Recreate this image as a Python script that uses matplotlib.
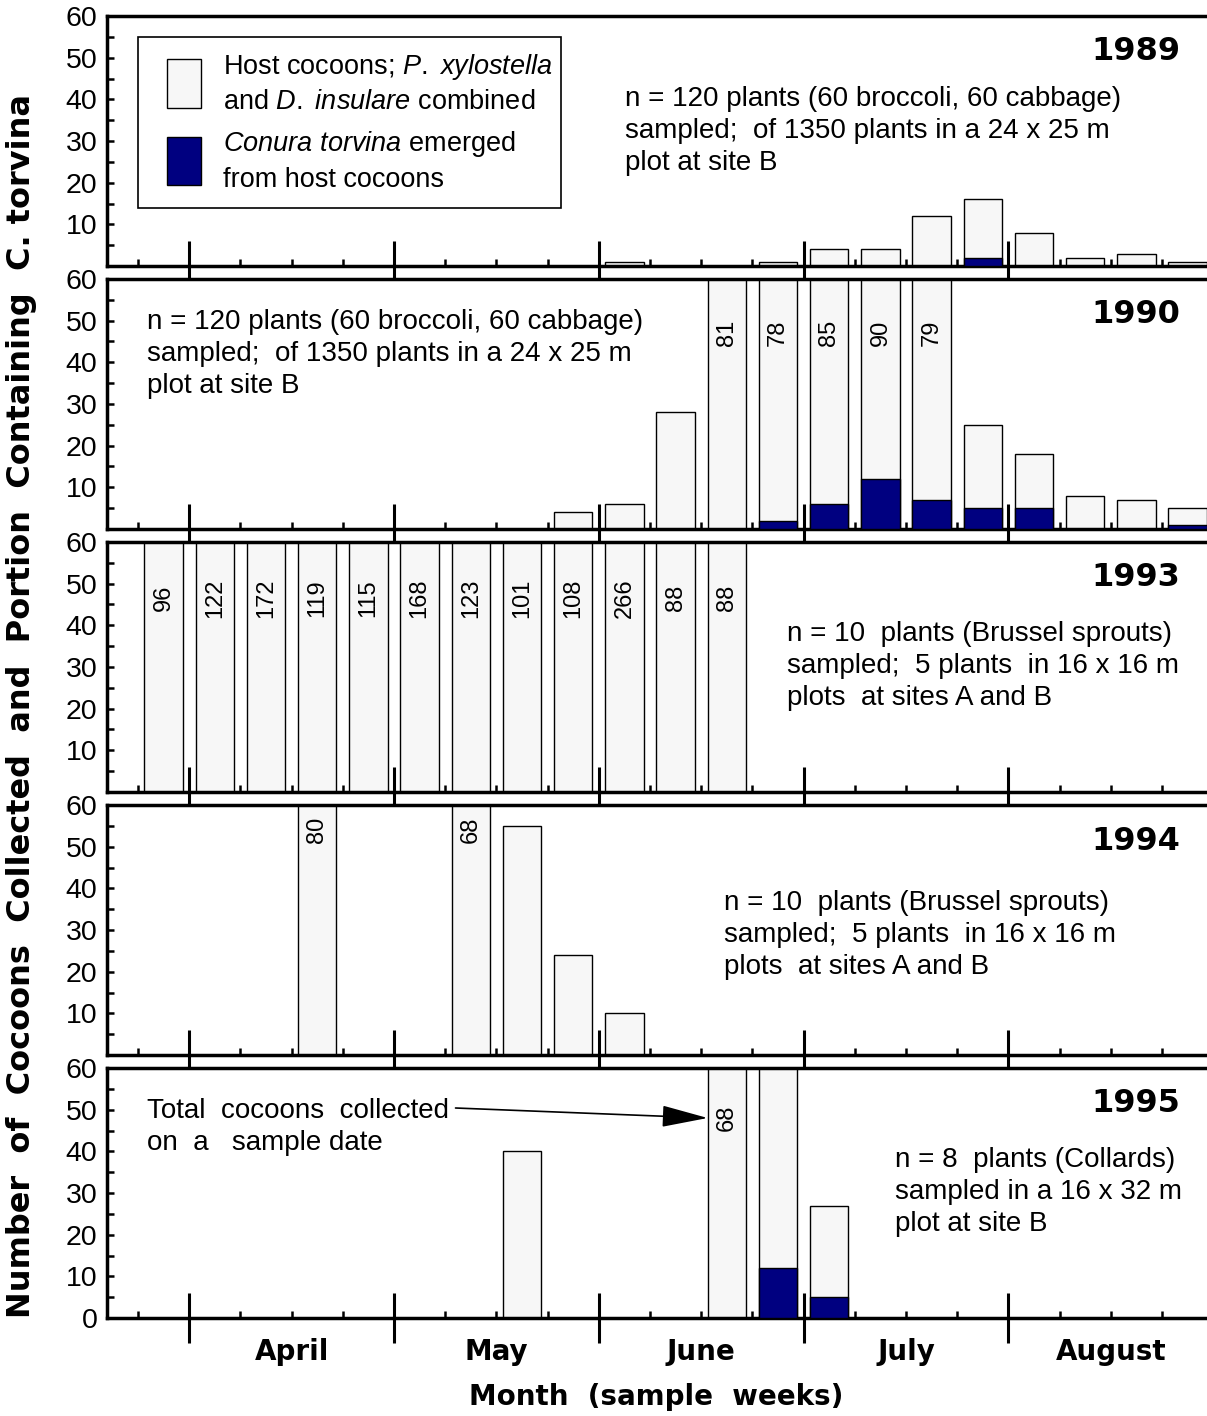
import matplotlib
matplotlib.use('Agg')
import matplotlib.pyplot as plt
from matplotlib.patches import Patch
from matplotlib.legend_handler import HandlerPatch

plt.rcParams['font.family'] = ['Liberation Sans', 'DejaVu Sans']
plt.rcParams['mathtext.fontset'] = 'custom'
plt.rcParams['mathtext.rm'] = 'Liberation Sans'
plt.rcParams['mathtext.it'] = 'Liberation Sans:italic'

# Sample weeks counted from 1 April (week 0 = first week of April)
years = ['1989', '1990', '1993', '1994', '1995']

weeks_1989 = [8, 11, 12, 13, 14, 15, 16, 17, 18, 19]
hosts_1989 = [1, 1, 4, 4, 12, 16, 8, 2, 3, 1]
torvina_1989 = [0, 0, 0, 0, 0, 2, 0, 0, 0, 0]

weeks_1990 = [7, 8, 9, 10, 11, 12, 13, 14, 15, 16, 17, 18, 19]
hosts_1990 = [4, 6, 28, 81, 78, 85, 90, 79, 25, 18, 8, 7, 5]
torvina_1990 = [0, 0, 0, 0, 2, 6, 12, 7, 5, 5, 0, 0, 1]

weeks_1993 = [-1, 0, 1, 2, 3, 4, 5, 6, 7, 8, 9, 10]
hosts_1993 = [96, 122, 172, 119, 115, 168, 123, 101, 108, 266, 88, 88]
torvina_1993 = [0, 0, 0, 0, 0, 0, 0, 0, 0, 0, 0, 0]

weeks_1994 = [2, 5, 6, 7, 8]
hosts_1994 = [80, 68, 55, 24, 10]
torvina_1994 = [0, 0, 0, 0, 0]

weeks_1995 = [6, 10, 11, 12]
hosts_1995 = [40, 68, 60, 27]
torvina_1995 = [0, 0, 12, 5]

months = ['April', 'May', 'June', 'July', 'August']
month_starts = [0, 4, 8, 12, 16]

notes = [
    ("n = 120 plants (60 broccoli, 60 cabbage)\n"
     "sampled;  of 1350 plants in a 24 x 25 m\nplot at site B", 0.471, 0.538),
    ("n = 120 plants (60 broccoli, 60 cabbage)\n"
     "sampled;  of 1350 plants in a 24 x 25 m\nplot at site B", 0.036, 0.700),
    ("n = 10  plants (Brussel sprouts)\n"
     "sampled;  5 plants  in 16 x 16 m\nplots  at sites A and B", 0.618, 0.504),
    ("n = 10  plants (Brussel sprouts)\n"
     "sampled;  5 plants  in 16 x 16 m\nplots  at sites A and B", 0.561, 0.480),
    ("n = 8  plants (Collards)\n"
     "sampled in a 16 x 32 m\nplot at site B", 0.716, 0.504),
]
value_label_y = [47, 47, 46.5, 54, 48]

panels = [
    (weeks_1989, hosts_1989, torvina_1989),
    (weeks_1990, hosts_1990, torvina_1990),
    (weeks_1993, hosts_1993, torvina_1993),
    (weeks_1994, hosts_1994, torvina_1994),
    (weeks_1995, hosts_1995, torvina_1995),
]

LIGHT = '#f7f7f7'
NAVY = '#000080'
BAR_W = 0.75
YMAX = 60

W, H = 1207, 1416
fig = plt.figure(figsize=(W / 100, H / 100), dpi=100)

axes = []
for i, (weeks, hosts, torv) in enumerate(panels):
    top = 16 + 263 * i
    ax = fig.add_axes([107 / W, 1 - (top + 250) / H, 1100 / W, 250 / H])
    axes.append(ax)
    xs = [w + 0.5 for w in weeks]
    ax.bar(xs, hosts, width=BAR_W, color=LIGHT, edgecolor='black',
           linewidth=1.0, zorder=2)
    dark = [(x, t) for x, t in zip(xs, torv) if t > 0]
    if dark:
        ax.bar([d[0] for d in dark], [d[1] for d in dark], width=BAR_W,
               color=NAVY, edgecolor='black', linewidth=1.0, zorder=3)
    for x, h in zip(xs, hosts):
        if h > YMAX:
            ax.text(x, value_label_y[i], str(h), rotation=90, ha='center',
                    va='center', fontsize=17, zorder=4)

    ax.set_xlim(-1.607, -1.607 + 1100 / 51.2)
    ax.set_ylim(0, YMAX)
    for s in ('left', 'bottom', 'top'):
        ax.spines[s].set_linewidth(2.5)
    ax.spines['right'].set_visible(False)

    ax.set_xticks(month_starts)
    ax.set_xticks([w for w in range(-1, 20) if w not in month_starts], minor=True)
    ax.tick_params(axis='x', which='major', direction='inout', length=36,
                   width=2.2, labelbottom=False)
    ax.tick_params(axis='x', which='minor', direction='in', length=5,
                   width=1.8)
    if i == len(panels) - 1:
        ax.set_yticks(range(0, 61, 10))
    else:
        ax.set_yticks(range(10, 61, 10))
    ax.set_yticks(range(5, 60, 10), minor=True)
    ax.tick_params(axis='y', which='both', direction='in', length=5,
                   width=1.8, labelsize=20.5, pad=7)

    ax.text(0.9755, 0.856, years[i], transform=ax.transAxes, ha='right',
            va='center', fontsize=23, fontweight='bold', family='DejaVu Sans')
    txt, tx, ty = notes[i]
    ax.text(tx, ty, txt, transform=ax.transAxes, ha='left', va='center',
            fontsize=20, linespacing=1.3)

# Legend in the top panel
handles = [Patch(facecolor=LIGHT, edgecolor='black', linewidth=1.0),
           Patch(facecolor=NAVY, edgecolor='black', linewidth=1.0)]
labels = [r"Host cocoons; $\mathit{P.\ xylostella}$" + "\n"
          r"and $\mathit{D.\ insulare}$ combined",
          r"$\mathit{Conura\ torvina}$ emerged" + "\nfrom host cocoons"]
leg = axes[0].legend(handles, labels, loc='upper left',
                     bbox_to_anchor=(0.0282, 0.232, 0.3845, 0.684),
                     mode='expand', borderaxespad=0, fontsize=19.5,
                     handlelength=1.77, handleheight=2.59, handletextpad=0.8,
                     borderpad=0.55, labelspacing=0.5, fancybox=False,
                     framealpha=1, edgecolor='black',
                     handler_map={Patch: HandlerPatch(xpad=0.52, ypad=0.15)})
leg.get_frame().set_linewidth(1.2)
for t in leg.get_texts():
    t.set_linespacing(1.38)

# Arrow pointing at the total on one 1995 sample date
ax5 = axes[-1]
ax5.text(0.036, 0.764, "Total  cocoons  collected\non  a   sample date",
         transform=ax5.transAxes, ha='left', va='center', fontsize=20,
         linespacing=1.3)
target_week = weeks_1995[hosts_1995.index(68)]
ax5.annotate('', xy=(target_week + 0.5 - BAR_W / 2, 48), xytext=(5.2, 50.4),
             arrowprops=dict(arrowstyle='-|>,head_length=1.45,head_width=0.34',
                             mutation_scale=20, color='black', lw=1.2,
                             shrinkA=0, shrinkB=0), zorder=5)

# Month names under the bottom panel
for m, start in zip(months, month_starts):
    ax5.text(start + 2, -0.136, m, transform=ax5.get_xaxis_transform(),
             ha='center', va='center', fontsize=20, fontweight='bold',
             family='DejaVu Sans')
ax5.text(0.499, -0.316, "Month  (sample  weeks)", transform=ax5.transAxes,
         ha='center', va='center', fontsize=20, fontweight='bold',
         family='DejaVu Sans')

fig.text(22 / W, 1 - 706 / H,
         "Number  of  Cocoons  Collected  and  Portion  Containing  C. torvina",
         rotation=90, ha='center', va='center', fontsize=23,
         fontweight='bold', family='DejaVu Sans')

fig.savefig('out.png', dpi=100)
